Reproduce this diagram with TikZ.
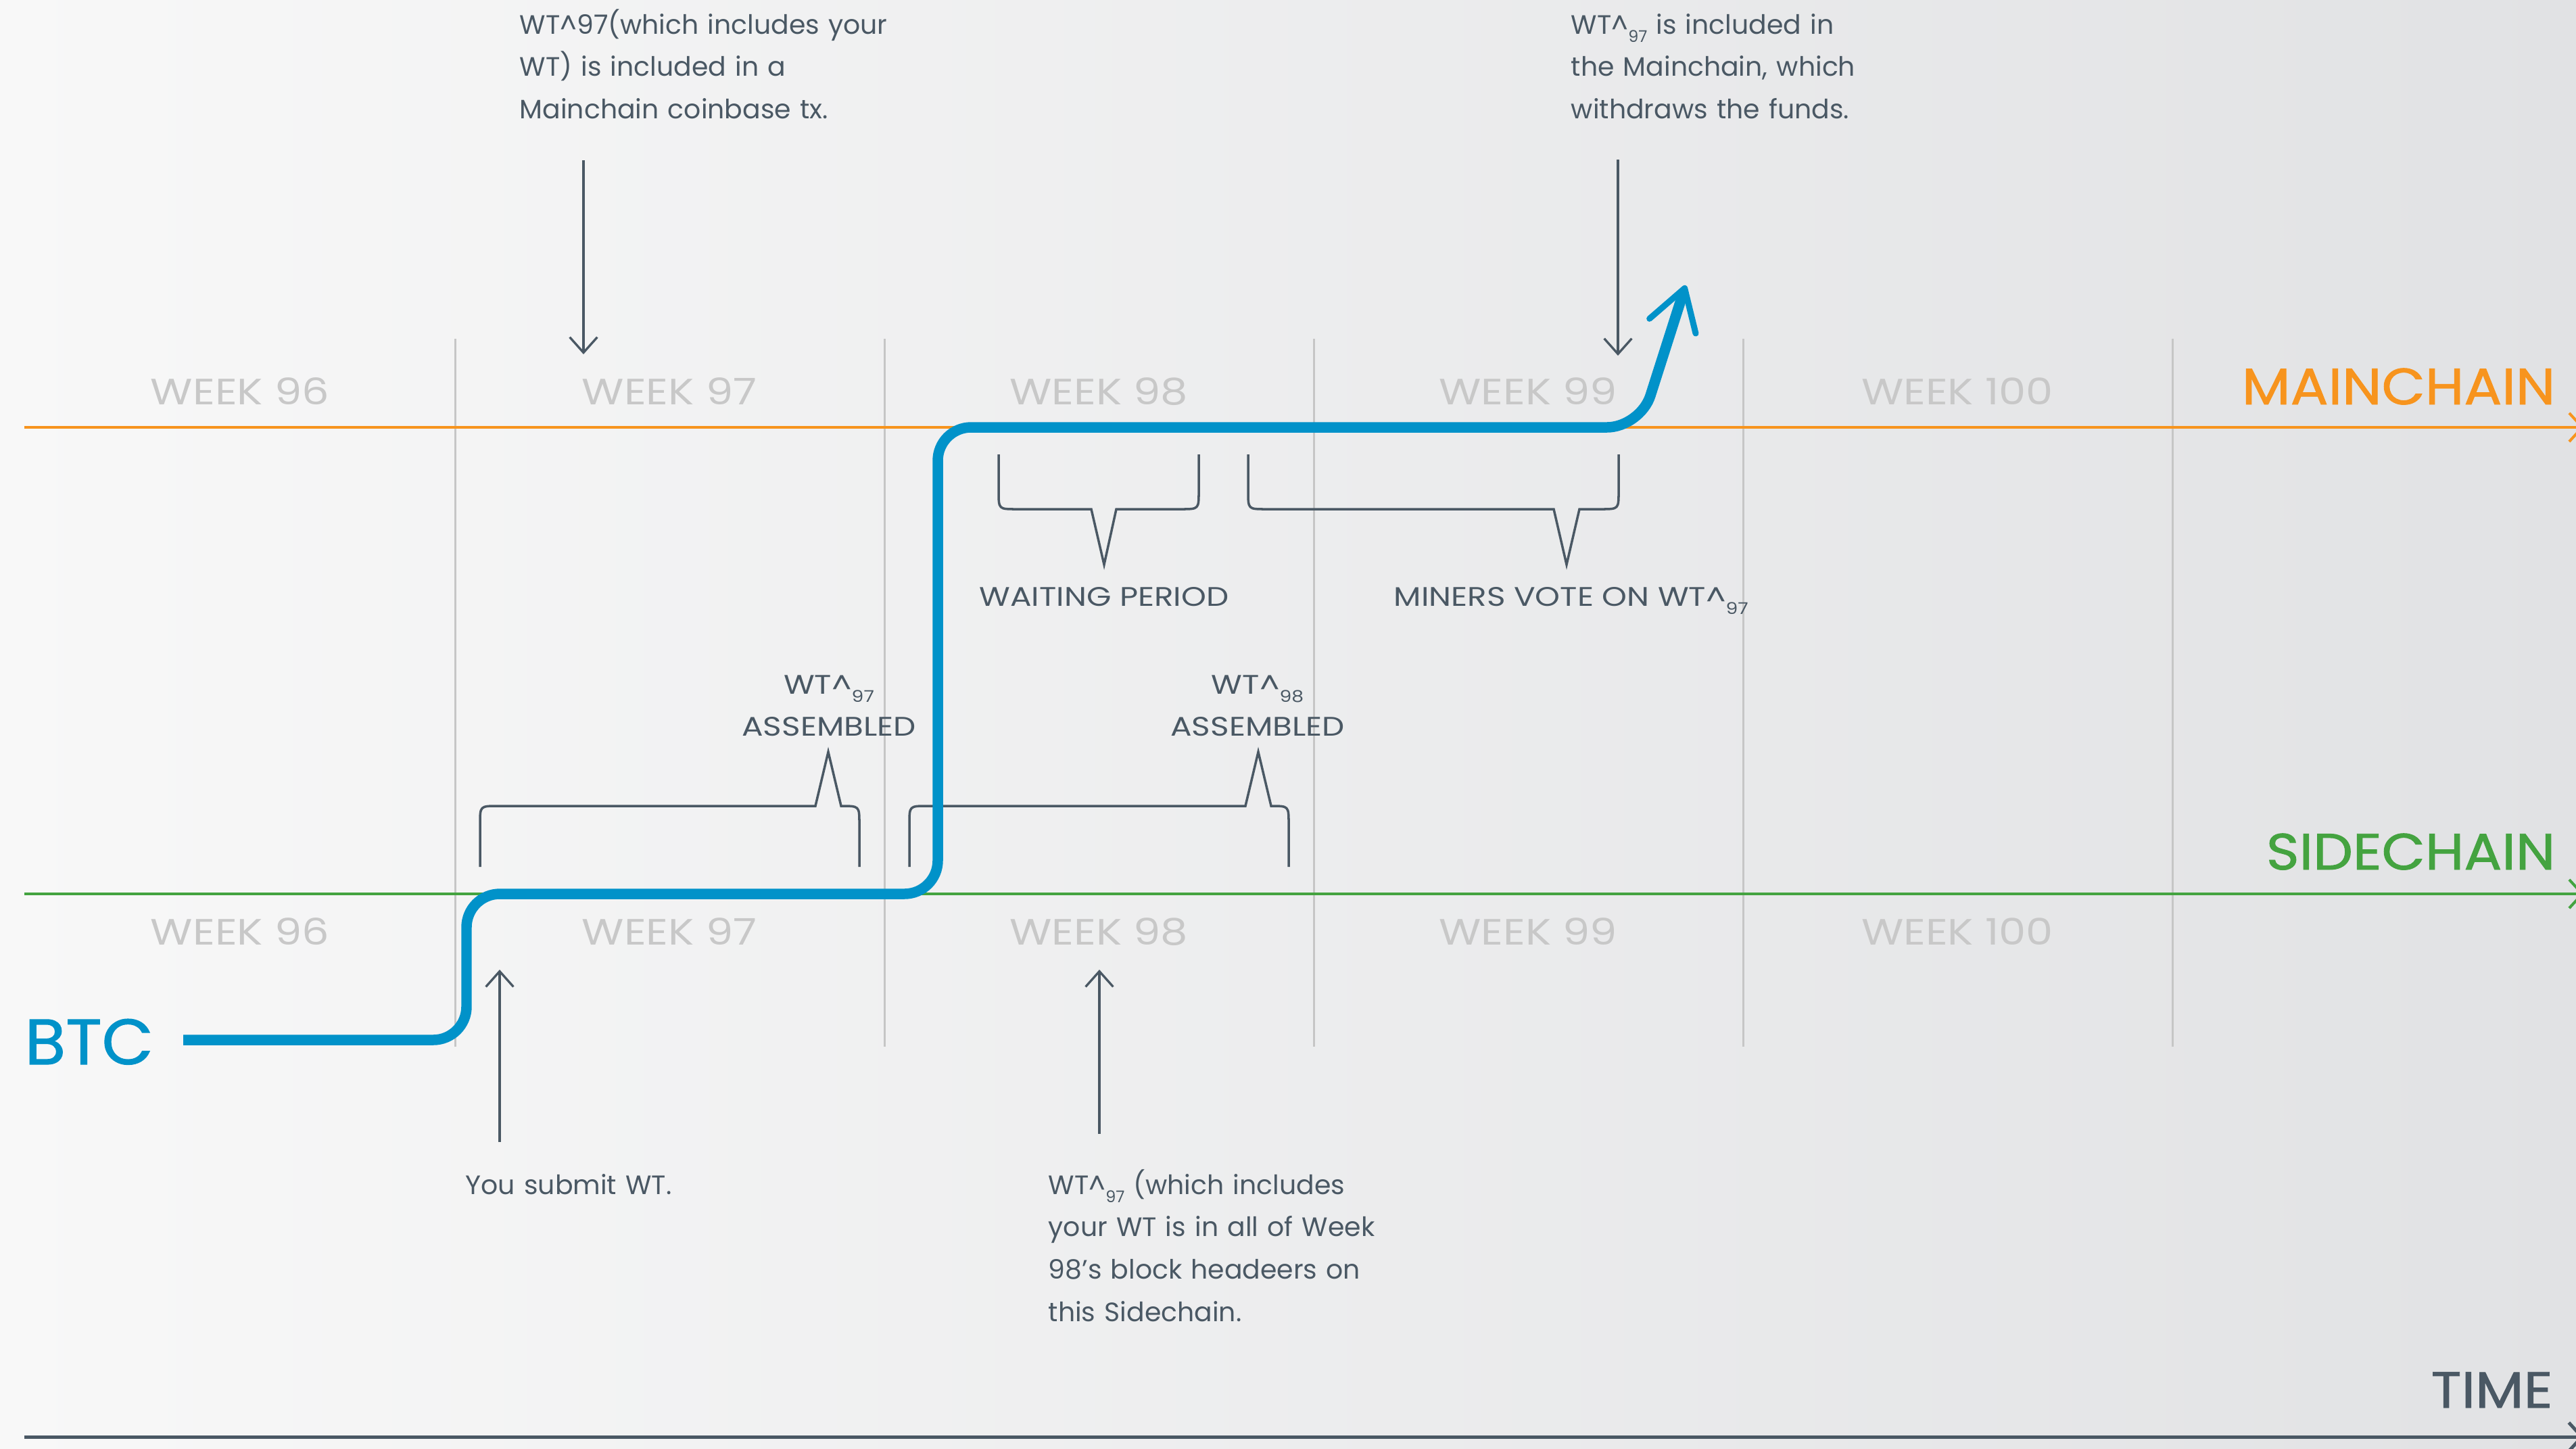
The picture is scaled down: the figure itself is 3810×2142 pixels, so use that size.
\documentclass[tikz,border=0pt]{standalone}
\usepackage{fontspec}
\setmainfont{Poppins}
\newfontfamily\capsfont[FakeStretch=1.18]{Poppins}
\newfontfamily\chainfont[FakeStretch=1.1,FakeBold=1.2]{Poppins}
\newfontfamily\btcfont[FakeStretch=1.04,FakeBold=1.2]{Poppins}
\usetikzlibrary{arrows.meta}

\definecolor{btcblue}{RGB}{1,146,201}
\definecolor{mainorange}{RGB}{247,148,30}
\definecolor{sidegreen}{RGB}{68,163,64}
\definecolor{inkgray}{RGB}{74,88,100}
\definecolor{weekgray}{RGB}{200,200,200}
\definecolor{gridgray}{RGB}{198,198,198}
\definecolor{bgleft}{RGB}{248,248,248}
\definecolor{bgright}{RGB}{225,226,228}

\newcommand{\wtsub}[1]{WT\textasciicircum\raisebox{-3.6pt}{\fontsize{6.8pt}{7pt}\selectfont #1}}

\begin{document}
\begin{tikzpicture}[x=0.01cm, y=-0.01cm,
    body/.style={font=\fontsize{11.2pt}{17.9pt}\selectfont, text=inkgray, inner sep=0pt},
    caps/.style={body, font=\capsfont\fontsize{11.3pt}{17.9pt}\selectfont},
    week/.style={font=\capsfont\fontsize{15.4pt}{18pt}\selectfont, text=weekgray, anchor=base, inner sep=0pt},
    chainlabel/.style={font=\chainfont\fontsize{21.5pt}{24pt}\selectfont, anchor=base east, inner sep=0pt},
    gridline/.style={gridgray, line width=0.85pt},
    chainline/.style={line width=1.15pt, -{Straight Barb[length=5.5pt,width=12pt]}},
    note/.style={inkgray, line width=0.95pt, -{Straight Barb[length=6.5pt,width=11.6pt]}},
    brace/.style={inkgray, line width=1pt},
    btcpath/.style={btcblue, line width=4.4pt, rounded corners=14pt,
      -{Straight Barb[length=16.7pt,width=20.4pt,line width=2.55pt,round]}}]

  \useasboundingbox (0,0) rectangle (3810,2142);
  \shade[left color=bgleft, right color=bgright] (0,0) rectangle (3810,2142);

  \draw[gridline] (673,501) -- (673,1548);
  \draw[gridline] (1308,501) -- (1308,1548);
  \draw[gridline] (1943,501) -- (1943,1548);
  \draw[gridline] (2578,501) -- (2578,1548);
  \draw[gridline] (3213,501) -- (3213,1548);

  \coordinate (main start) at (36,632);
  \coordinate (main end) at (3822,632);
  \coordinate (side start) at (36,1322);
  \coordinate (side end) at (3822,1322);
  \coordinate (time start) at (36,2125);
  \coordinate (time end) at (3822,2125);

  \draw[chainline, mainorange] (main start) -- (main end);
  \draw[chainline, sidegreen] (side start) -- (side end);
  \draw[chainline, inkgray, line width=1.4pt] (time start) -- (time end);

  \node[chainlabel, text=mainorange] (mainchain) at (3780,598) {MAINCHAIN};
  \node[chainlabel, text=sidegreen] (sidechain) at (3780,1286) {SIDECHAIN};
  \node[chainlabel, text=inkgray] (time) at (3776,2082) {TIME};
  \node[font=\btcfont\fontsize{27pt}{30pt}\selectfont, text=btcblue, anchor=base west, inner sep=0pt]
    (btc) at (36,1574) {BTC};

  \node[week] (main96) at (355,598) {WEEK 96};
  \node[week] (main97) at (990,598) {WEEK 97};
  \node[week] (main98) at (1625,598) {WEEK 98};
  \node[week] (main99) at (2260,598) {WEEK 99};
  \node[week] (main100) at (2895,598) {WEEK 100};
  \node[week] (side96) at (355,1397) {WEEK 96};
  \node[week] (side97) at (990,1397) {WEEK 97};
  \node[week] (side98) at (1625,1397) {WEEK 98};
  \node[week] (side99) at (2260,1397) {WEEK 99};
  \node[week] (side100) at (2895,1397) {WEEK 100};

  \draw[brace] (1477,672) -- (1477,727) .. controls (1477,753) .. (1503,753)
    -- (1614,753) -- (1633,835) -- (1651,753) -- (1747,753)
    .. controls (1773,753) .. (1773,727) -- (1773,672);
  \draw[brace] (1846,672) -- (1846,727) .. controls (1846,753) .. (1872,753)
    -- (2298,753) -- (2317,835) -- (2336,753) -- (2368,753)
    .. controls (2394,753) .. (2394,727) -- (2394,672);
  \draw[brace] (710,1282) -- (710,1218) .. controls (710,1192) .. (736,1192)
    -- (1206,1192) -- (1225,1112) -- (1244,1192)
    .. controls (1271,1192) .. (1271,1218) -- (1271,1282);
  \draw[brace] (1345,1282) -- (1345,1218) .. controls (1345,1192) .. (1371,1192)
    -- (1842,1192) -- (1861,1112) -- (1880,1192)
    .. controls (1906,1192) .. (1906,1218) -- (1906,1282);

  \node[caps, anchor=base] (waiting) at (1633,896) {WAITING PERIOD};
  \node[caps, anchor=base west] (miners) at (2061,896) {MINERS VOTE ON \wtsub{97}};
  \node[caps, anchor=base, text width=4cm, align=center] (assembled97) at (1226,1026)
    {\wtsub{97}\\ASSEMBLED};
  \node[caps, anchor=base, text width=4cm, align=center] (assembled98) at (1860,1026)
    {\wtsub{98}\\ASSEMBLED};

  \node[body, anchor=base west, text width=7cm, align=left] (coinbase) at (768,50)
    {WT\textasciicircum97(which includes your\\WT) is included in a\\Mainchain coinbase tx.};
  \node[body, anchor=base west, text width=7cm, align=left] (withdraw) at (2323,50)
    {\wtsub{97} is included in\\the Mainchain, which\\withdraws the funds.};
  \node[body, anchor=base west, text width=7cm, align=left] (submit) at (688,1766)
    {You submit WT.};
  \node[body, anchor=base west, text width=7cm, align=left] (headers) at (1550,1766)
    {\wtsub{97} (which includes\\your WT is in all of Week\\98’s block headeers on\\this Sidechain.};

  \coordinate (coinbase from) at (863,237);
  \coordinate (coinbase to) at (863,524);
  \coordinate (withdraw from) at (2393,236);
  \coordinate (withdraw to) at (2393,526);
  \coordinate (submit from) at (739,1689);
  \coordinate (submit to) at (739,1434);
  \coordinate (headers from) at (1626,1677);
  \coordinate (headers to) at (1626,1434);

  \draw[note] (coinbase from) -- (coinbase to);
  \draw[note] (withdraw from) -- (withdraw to);
  \draw[note] (submit from) -- (submit to);
  \draw[note] (headers from) -- (headers to);

  \coordinate (wt start) at (271,1538);
  \coordinate (wt step) at (690,1538);
  \coordinate (wt side) at (690,1322);
  \coordinate (wt rise) at (1387,1322);
  \coordinate (wt main) at (1387,632);
  \coordinate (wt turn) at (2426,632);
  \coordinate (wt out) at (2493,422);

  \draw[btcpath] (wt start) -- (wt step) -- (wt side) -- (wt rise) -- (wt main)
    -- (wt turn) -- (wt out);
\end{tikzpicture}
\end{document}
